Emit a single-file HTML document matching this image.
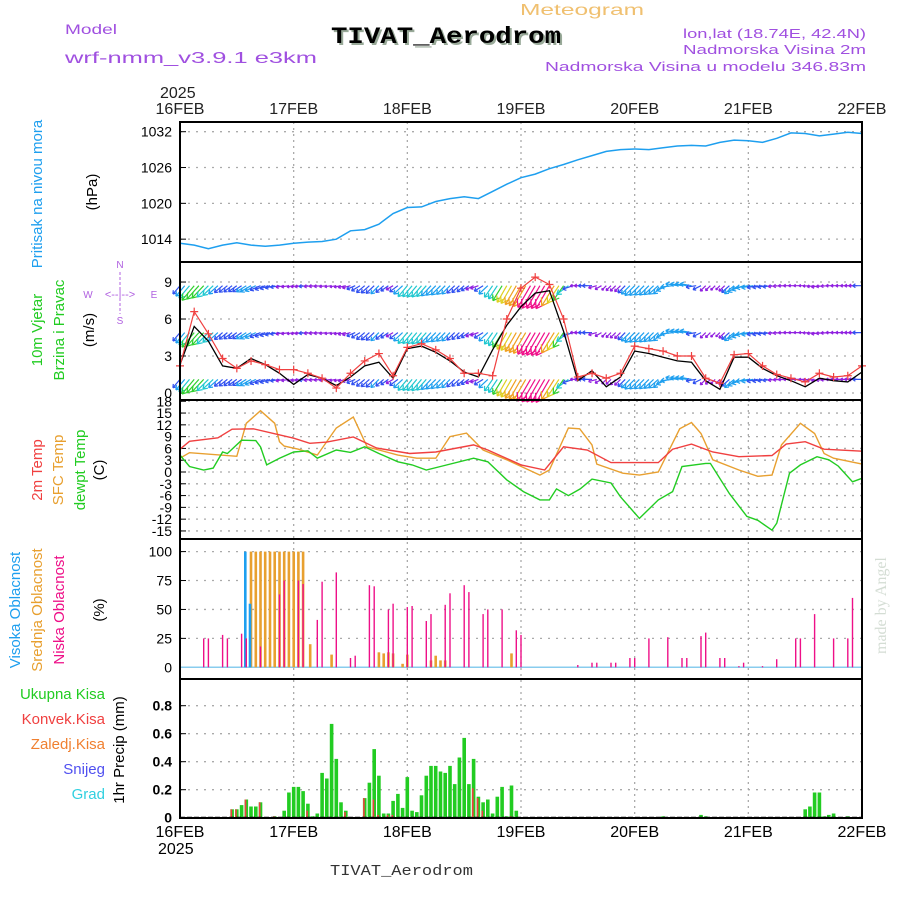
<!DOCTYPE html>
<html><head><meta charset="utf-8"><style>
body{margin:0;background:#fff}
svg{display:block;font-family:"Liberation Sans",sans-serif}
</style></head><body>
<svg id="chart" width="900" height="900" viewBox="0 0 900 900" xmlns="http://www.w3.org/2000/svg">
<rect width="900" height="900" fill="#fff"/>
<text x="520" y="15" font-size="16" fill="#f0c070" textLength="124" lengthAdjust="spacingAndGlyphs">Meteogram</text>
<text x="65" y="34" font-size="14" fill="#a050e0" textLength="52" lengthAdjust="spacingAndGlyphs">Model</text>
<text x="65" y="63" font-size="16" fill="#a050e0" textLength="252" lengthAdjust="spacingAndGlyphs">wrf-nmm_v3.9.1 e3km</text>
<text x="333" y="45" font-size="23" font-weight="bold" fill="#9a9" font-family="Liberation Mono, monospace" textLength="230" lengthAdjust="spacingAndGlyphs">TIVAT_Aerodrom</text>
<text x="331" y="43" font-size="23" font-weight="bold" fill="#000" font-family="Liberation Mono, monospace" textLength="230" lengthAdjust="spacingAndGlyphs">TIVAT_Aerodrom</text>
<text x="683" y="38" font-size="13" fill="#a050e0" textLength="183" lengthAdjust="spacingAndGlyphs">lon,lat (18.74E, 42.4N)</text>
<text x="683" y="54" font-size="13" fill="#a050e0" textLength="183" lengthAdjust="spacingAndGlyphs">Nadmorska Visina 2m</text>
<text x="545" y="71" font-size="13" fill="#a050e0" textLength="321" lengthAdjust="spacingAndGlyphs">Nadmorska Visina u modelu 346.83m</text>
<text x="160" y="98" font-size="16" fill="#222">2025</text>
<text x="158" y="854" font-size="16" fill="#000">2025</text>
<text x="330" y="875" font-size="15" fill="#333" font-family="Liberation Mono, monospace" textLength="143" lengthAdjust="spacingAndGlyphs">TIVAT_Aerodrom</text>
<text transform="translate(886,654) rotate(-90)" font-size="16" fill="#d4ddd4" font-family="Liberation Serif, serif">made by Angel</text>
<g id="labels" font-size="14">
<text transform="translate(42,194) rotate(-90)" fill="#1e9fef" text-anchor="middle" font-size="15">Pritisak na nivou mora</text>
<text transform="translate(97,192) rotate(-90)" fill="#000" text-anchor="middle" font-size="15">(hPa)</text>
<text transform="translate(42,330) rotate(-90)" fill="#22cc22" text-anchor="middle" font-size="15">10m Vjetar</text>
<text transform="translate(64,330) rotate(-90)" fill="#22cc22" text-anchor="middle" font-size="15">Brzina i Pravac</text>
<text transform="translate(94,330) rotate(-90)" fill="#000" text-anchor="middle" font-size="15">(m/s)</text>
<text transform="translate(42,470) rotate(-90)" fill="#f04040" text-anchor="middle" font-size="15">2m Temp</text>
<text transform="translate(63,470) rotate(-90)" fill="#e8a030" text-anchor="middle" font-size="15">SFC Temp</text>
<text transform="translate(85,470) rotate(-90)" fill="#22cc22" text-anchor="middle" font-size="15">dewpt Temp</text>
<text transform="translate(104,470) rotate(-90)" fill="#000" text-anchor="middle" font-size="15">(C)</text>
<text transform="translate(20,610) rotate(-90)" fill="#1e9fef" text-anchor="middle" font-size="15">Visoka Oblacnost</text>
<text transform="translate(42,610) rotate(-90)" fill="#e8a030" text-anchor="middle" font-size="15">Srednja Oblacnost</text>
<text transform="translate(64,610) rotate(-90)" fill="#ee1088" text-anchor="middle" font-size="15">Niska Oblacnost</text>
<text transform="translate(104,610) rotate(-90)" fill="#000" text-anchor="middle" font-size="15">(%)</text>
<text transform="translate(124,750) rotate(-90)" fill="#000" text-anchor="middle" font-size="15">1hr Precip (mm)</text>
<text x="105" y="699" fill="#22cc22" text-anchor="end" font-size="15">Ukupna Kisa</text>
<text x="105" y="724" fill="#f04040" text-anchor="end" font-size="15">Konvek.Kisa</text>
<text x="105" y="749" fill="#f08030" text-anchor="end" font-size="15">Zaledj.Kisa</text>
<text x="105" y="774" fill="#5050f0" text-anchor="end" font-size="15">Snijeg</text>
<text x="105" y="799" fill="#30d0e0" text-anchor="end" font-size="15">Grad</text>
</g>
<g fill="#b060e0" stroke="none" font-size="10">
<text x="120" y="268" text-anchor="middle">N</text>
<text x="120" y="324" text-anchor="middle">S</text>
<text x="88" y="298" text-anchor="middle">W</text>
<text x="154" y="298" text-anchor="middle">E</text>
<text x="120" y="298" text-anchor="middle" font-size="11">&lt;--|--&gt;</text>
<line x1="120" y1="272" x2="120" y2="290" stroke="#b060e0" stroke-dasharray="3,2"/>
<line x1="120" y1="298" x2="120" y2="314" stroke="#b060e0" stroke-dasharray="3,2"/>
</g>
<g id="grid"></g>
<g id="marks"></g>
<g id="frames"></g>
</svg>
<script>
// ---- data ----
const days = ["16FEB","17FEB","18FEB","19FEB","20FEB","21FEB","22FEB"];
const hours3 = [0,3,6,9,12,15,18,21,24,27,30,33,36,39,42,45,48,51,54,57,60,63,66,69,72,75,78,81,84,87,90,93,96,99,102,105,108,111,114,117,120,123,126,129,132,135,138,141,144];
const pressure = [1013.3,1013.0,1012.4,1013.0,1013.4,1013.0,1012.8,1013.0,1013.3,1013.5,1013.6,1014.0,1015.4,1015.6,1016.5,1018.3,1019.3,1019.4,1020.3,1020.8,1021.1,1020.8,1022.0,1023.2,1024.3,1024.9,1025.8,1026.5,1027.3,1028.0,1028.7,1029.0,1029.1,1029.0,1029.3,1029.6,1029.7,1029.6,1030.2,1030.6,1030.5,1030.2,1030.9,1031.8,1031.7,1031.3,1031.6,1031.9,1031.7];
const windSpeed = [2.3,5.4,4.2,2.2,2.0,2.8,2.3,1.6,0.7,1.5,1.2,0.6,1.3,2.2,2.5,1.2,3.6,3.8,3.3,2.6,1.7,1.3,3.5,5.5,7.0,8.1,8.3,5.0,1.0,1.8,0.5,1.3,3.4,3.2,2.9,2.6,2.5,1.0,0.3,2.9,2.9,2.0,1.4,1.0,0.5,1.2,1.0,0.9,1.7];
const windGust = [2.2,6.6,4.8,2.8,2.0,2.6,2.3,1.9,1.9,1.6,1.2,0.4,1.6,2.6,3.2,1.4,3.7,4.0,3.5,2.8,1.6,1.6,1.4,6.0,8.5,9.4,8.8,6.0,1.3,1.6,1.2,1.6,3.8,3.6,3.4,3.0,3.0,1.2,0.8,3.1,3.2,2.2,1.5,1.2,0.9,1.6,1.3,1.4,2.2];
const windDir = [40,40,45,50,55,60,70,80,80,85,85,80,75,50,45,60,40,40,45,45,50,70,35,30,30,30,30,35,90,90,45,45,45,45,50,100,100,45,45,50,80,80,85,90,90,80,90,90,90];
const tHours = [0,2,8,11,15.5,24,27.4,31,36.6,41.5,48.5,54,62,65,72,77,81,86,91,101,104,108,112.5,118,125,128,132,136,144];
const temp2m = [5.8,7.8,8.7,10.9,11,8.6,7.3,7.6,8.9,6.1,4.7,5.1,6.9,5.6,1.8,0.5,6.4,5.6,2.4,2.4,5.8,7.1,5.1,3.9,4.2,7.1,7.7,5.8,5.3];
const sHours = [0,2,12,14,17,20,21,22,25,29,33,36.6,39.5,46,50,54,57,60.5,64,69,76,78,82,84.4,87,88,93.5,97,101,105.5,108,110,112.5,118,122,125,127,131,134,136,138,144];
const tempSfc = [3.5,4.9,4.0,12.4,15.6,12.4,7.7,6.6,5.8,4.3,11.2,14.0,6.4,4.3,3.5,3.5,9.0,9.9,5.6,3.1,-0.8,0.5,11.2,11.0,6.9,2.0,-0.3,-0.8,0,11,12.6,9.8,3.1,0.5,-1.1,-0.8,6.9,12.4,9.8,4.7,3.5,2.0];
const dHours = [0,2,5,7,9,10,13,16,17,18.3,21,24,27,29,33,36,39,42,46,49,52,55,62,65,69,72.5,76,78,79.5,82,84.5,87,91,93,97,101,104,106,111,112,116,119.7,122,125,126,128.7,131,134.5,137,139,142,144];
const dewpt = [4.3,1.4,0.5,1.0,5.1,4.7,8.1,8.0,6.4,1.8,3.5,5.1,5.4,3.5,5.6,5.0,6.4,4.7,2.6,1.8,0.5,1.4,3.5,2.6,-2.0,-5.0,-7.1,-7.1,-4.3,-6.0,-4.3,-1.8,-2.8,-6.3,-11.8,-7.1,-5.0,1.4,2.2,2.2,-5.5,-11.3,-12.3,-14.8,-13.0,-0.3,1.8,3.9,3.1,1.5,-2.5,-1.6];
const lowHours = [5,6,9,10,13,14,17,21,22,25,26,29,30,33,36,37,40,41,44,45,48,49,52,53,56,57,60,61,64,65,68,71,72,84,87,88,91,92,95,96,99,103,106,107,110,111,114,115,118,119,123,126,130,131,134,138,141,142];
const lowCloud = [25,25,28,25,29,25,18,63,75,75,72,41,74,82,8,10,71,70,50,55,52,53,40,46,54,64,71,65,46,50,50,32,28,2,4,4,4,4,8,8,25,26,8,8,27,30,8,8,1,4,1,7,25,25,46,25,25,60];
const midHours = [15,16,17,18,19,20,21,22,23,24,25,26,27.5,32,42,43,44,45,47,48,53,54,55,56,70];
const midCloud = [100,100,100,100,100,100,100,100,100,100,100,100,20,11,13,12,13,12,3,11,6,10,6,6,12];
const highHours = [14,15];
const highCloud = [100,55];
const pHours = [11,12,13,14,15,16,17,20,22,23,24,25,26,27,28,29,30,31,32,33,34,35,39,40,41,42,43,44,45,46,47,48,49,50,51,52,53,54,55,56,57,58,59,60,61,62,63,64,65,66,67,68,69,70,71,102,110,111,132,133,134,135,136,137,138,141];
const precipTotal = [0.06,0.06,0.09,0.13,0.08,0.08,0.11,0.01,0.05,0.18,0.22,0.22,0.19,0.10,0.01,0.03,0.32,0.28,0.67,0.42,0.11,0.05,0.14,0.25,0.49,0.30,0.03,0.03,0.12,0.17,0.07,0.29,0.05,0.04,0.16,0.30,0.37,0.37,0.33,0.32,0.37,0.24,0.43,0.57,0.24,0.42,0.15,0.11,0.13,0.03,0.15,0.22,0.01,0.23,0.05,0.01,0.02,0.01,0.06,0.08,0.18,0.18,0.01,0.02,0.03,0.01];
const precipConv = [0.06,0.06,0.0,0.13,0.0,0.0,0.11,0.01,0.0,0.0,0.0,0.0,0.0,0.05,0.0,0.0,0.0,0.0,0.0,0.0,0.0,0.04,0.14,0.0,0.13,0.02,0.0,0.02,0.02,0.0,0.0,0.0,0.0,0.0,0.0,0.0,0.0,0.0,0.0,0.0,0.0,0.0,0.0,0.0,0.0,0.21,0.14,0.05,0.0,0.0,0.0,0.0,0.0,0.01,0.0,0,0,0,0,0,0,0,0,0,0,0];
const pressTicks = [1014,1020,1026,1032];
const windTicks = [0,3,6,9];
const tempTicks = [18,15,12,9,6,3,0,-3,-6,-9,-12,-15];
const cloudTicks = [0,25,50,75,100];
const precipTicks = ["0","0.2","0.4","0.6","0.8"];

// ---- scales ----
const X0=180, X1=862;
const xs = h => X0 + h*(X1-X0)/144;
const yP = v => 131.7 + (1032-v)*5.97;
const yW = v => 393 - v*12.33;
const yT = v => 472 - v*3.93;
const yC = v => 667.3 - v*1.157;
const yR = v => 817.7 - v*140;
const panels = [[122,262],[262,400],[400,539],[539,679],[679,818]];

const NS="http://www.w3.org/2000/svg";
function mk(tag, attrs, parent){const e=document.createElementNS(NS,tag);for(const k in attrs)e.setAttribute(k,attrs[k]);parent.appendChild(e);return e;}
const grid=document.getElementById('grid'), marks=document.getElementById('marks'), frames=document.getElementById('frames');

days.forEach((d,i)=>{
  const x=xs(i*24);
  const l=mk('line',{x1:x,y1:122,x2:x,y2:818,stroke:'#aaa','stroke-dasharray':'2,4','stroke-width':1.3},grid);
  
  
  const t=mk('text',{x:x,y:114,'font-size':16,'text-anchor':'middle',fill:'#222'},grid);t.textContent=d;
  
  
  const b=mk('text',{x:x,y:837,'font-size':16,'text-anchor':'middle',fill:'#000'},grid);b.textContent=d;
  
  
});
function hticks(vals, yf, labels, bold){
  vals.forEach((v,i)=>{
    const y=yf(v);
    const l=mk('line',{x1:X0,y1:y,x2:X1,y2:y,stroke:'#aaa','stroke-dasharray':'2,6','stroke-width':1.3},grid);
    
    
    mk('line',{x1:X0,y1:y,x2:X0+6,y2:y,stroke:'#000'},grid);
    const t=mk('text',{x:172,y:y+5,'font-size':14,'text-anchor':'end',fill:'#000','font-weight':bold?'bold':'normal'},grid);
    t.textContent=labels?labels[i]:v;
    
    
  });
}
hticks(pressTicks,yP);
hticks(windTicks,yW);
hticks(tempTicks,yT);
hticks(cloudTicks,yC);
hticks(precipTicks.map(Number),yR,precipTicks,true);

function line(hrs, vals, yf, color, name, w){
  const d=hrs.map((h,i)=>(i?'L':'M')+xs(h).toFixed(1)+','+yf(vals[i]).toFixed(1)).join('');
  const p=mk('path',{d:d,fill:'none',stroke:color,'stroke-width':w||1.4},marks);
  
  
}
line(hours3,pressure,yP,'#1e9fef','pressure-line',1.5);

const rowY=[9-0.3,5-0.1,1.1];
function windColor(s){return s<1.5?'#9020e0':s<2.5?'#3050f0':s<3.5?'#1e9fef':s<4.5?'#20c8d0':s<5.5?'#30d030':s<6.5?'#e0d020':s<7.5?'#f0a020':'#f0108a';}
for(let h=0;h<=144;h+=1){
  const k=Math.min(Math.floor(h/3),hours3.length-2), f=(h-hours3[k])/3;
  const s=windSpeed[k]*(1-f)+windSpeed[k+1]*f;
  const dir=windDir[k]*(1-f)+windDir[k+1]*f;
  const rad=dir*Math.PI/180;
  const L=5+s*2.6;
  const dx=-Math.sin(rad)*L, dy=Math.cos(rad)*L;
  rowY.forEach(rv=>{
    const x=xs(h), y=yW(rv);
    const a=mk('path',{d:`M${x.toFixed(1)},${y.toFixed(1)}l${dx.toFixed(1)},${dy.toFixed(1)}m0,0l${(-dx*0.3+dy*0.2).toFixed(1)},${(-dy*0.3-dx*0.2).toFixed(1)}m${(dx*0.3-dy*0.2).toFixed(1)},${(dy*0.3+dx*0.2).toFixed(1)}l${(-dx*0.3-dy*0.2).toFixed(1)},${(-dy*0.3+dx*0.2).toFixed(1)}`,stroke:windColor(s),'stroke-width':1.2,fill:'none'},marks);
    
    
  });
}
line(hours3,windSpeed,yW,'#000','wind-speed-line',1.3);
line(hours3,windGust,yW,'#f04040','wind-gust-line',1.2);
hours3.forEach((h,i)=>{
  const x=xs(h),y=yW(windGust[i]);
  const p=mk('path',{d:`M${x-4},${y}h8M${x},${y-4}v8`,stroke:'#f04040','stroke-width':1.2},marks);
  
  
});

line(sHours,tempSfc,yT,'#e8a030','sfc-temp-line');
line(tHours,temp2m,yT,'#f04040','temp-2m-line');
line(dHours,dewpt,yT,'#22cc22','dewpoint-line');

mk('line',{x1:X0,y1:yC(0),x2:X1,y2:yC(0),stroke:'#88ccee','stroke-width':1.5},marks);
function bars(hrs, vals, yf, color, w, off, name){
  hrs.forEach((h,i)=>{
    if(vals[i]<=0)return;
    const y=yf(vals[i]);
    const r=mk('rect',{x:(xs(h)+off-w/2).toFixed(1),y:y.toFixed(1),width:w,height:(yf(0)-y).toFixed(1),fill:color},marks);
    
    
  });
}
bars(midHours,midCloud,yC,'#e8a030',2.6,0,'mid-cloud-bar');
bars(highHours,highCloud,yC,'#1e9fef',2.6,-1,'high-cloud-bar');
bars(lowHours,lowCloud,yC,'#ee1088',1.4,0,'low-cloud-bar');

bars(pHours,precipTotal,yR,'#22cc22',3.6,0,'total-precip-bar');
bars(pHours,precipConv,yR,'#f04040',1.6,-0.8,'convective-precip-bar');
mk('line',{x1:X0,y1:yR(0),x2:X1,y2:yR(0),stroke:'#000','stroke-width':2,'stroke-dasharray':'5,2'},marks);

panels.forEach(p=>{
  const r=mk('rect',{x:X0,y:p[0],width:X1-X0,height:p[1]-p[0],fill:'none',stroke:'#000','stroke-width':2},frames);
  
  
});
</script>
</body></html>
